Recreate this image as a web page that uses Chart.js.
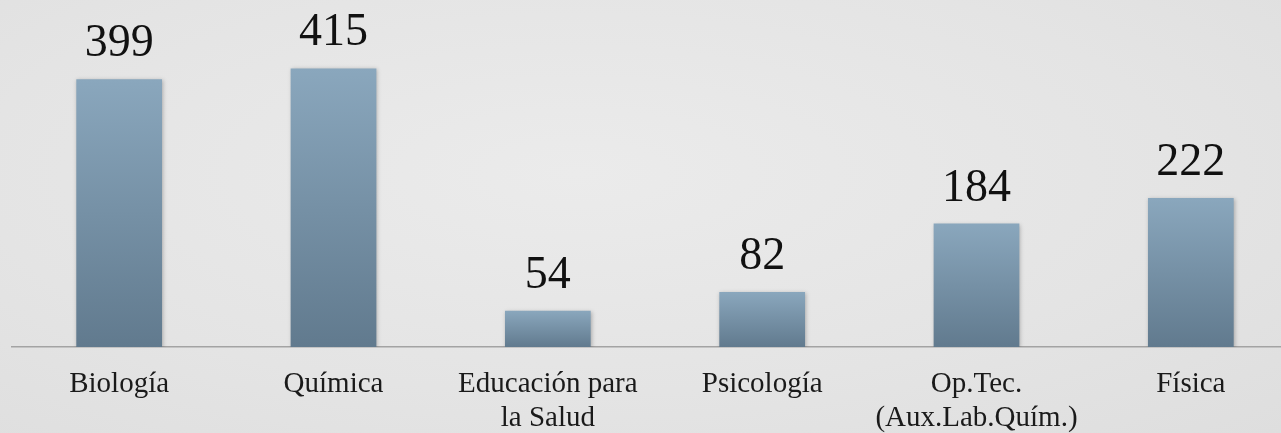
<!DOCTYPE html>
<html>
<head>
<meta charset="utf-8">
<script src="https://cdn.jsdelivr.net/npm/chart.js@4/dist/chart.umd.min.js"></script>
<style>
  html, body { margin: 0; padding: 0; overflow: hidden; }
  body { width: 1281px; height: 433px; background: radial-gradient(ellipse at 45% 40%, #ebebeb 0%, #e4e4e4 60%, #dedede 100%); }
  #wrap { position: relative; width: 1298px; height: 455px; }
</style>
</head>
<body>
<div id="wrap"><canvas id="bars"></canvas></div>
<script>
const categories = ["Biología", "Química", ["Educación para", "la Salud"], "Psicología", ["Op.Tec.", "(Aux.Lab.Quím.)"], "Física"];
const students = [399, 415, 54, 82, 184, 222];

const serif = "'Liberation Serif', 'Times New Roman', serif";

function barGradient(context) {
    const chart = context.chart;
    const area = chart.chartArea;
    if (!area || context.type !== 'data') return '#7790a5';
    const y = chart.scales.y;
    const top = y.getPixelForValue(context.raw);
    const base = y.getPixelForValue(0);
    const g = chart.ctx.createLinearGradient(0, top, 0, base);
    g.addColorStop(0, '#8aa7bd');
    g.addColorStop(1, '#617a8e');
    return g;
}

const barShadow = {
    id: 'barShadow',
    beforeDatasetDraw(chart) {
        const c = chart.ctx;
        c.save();
        c.shadowColor = 'rgba(0,0,0,0.25)';
        c.shadowBlur = 4;
        c.shadowOffsetX = 1;
        c.shadowOffsetY = 1;
    },
    afterDatasetDraw(chart) {
        chart.ctx.restore();
    }
};

const valueLabels = {
    id: 'valueLabels',
    afterDatasetsDraw(chart) {
        const c = chart.ctx;
        const meta = chart.getDatasetMeta(0);
        c.save();
        c.font = "46px " + serif;
        c.fillStyle = '#111111';
        c.textAlign = 'center';
        c.textBaseline = 'alphabetic';
        meta.data.forEach((bar, i) => {
            c.fillText(String(students[i]), bar.x, bar.y - 23);
        });
        c.restore();
    }
};

new Chart(document.getElementById("bars").getContext("2d"), {
    type: 'bar',
    data: {
        labels: categories,
        datasets: [{
            data: students,
            backgroundColor: barGradient,
            borderWidth: 0,
            barPercentage: 0.4,
            categoryPercentage: 1
        }]
    },
    options: {
        responsive: true,
        maintainAspectRatio: false,
        animation: false,
        layout: { padding: { left: 12, right: 0, top: 0, bottom: 0 } },
        plugins: {
            legend: { display: false },
            tooltip: { enabled: false }
        },
        scales: {
            x: {
                grid: { display: false, drawTicks: false },
                border: { display: true, color: '#a3a3a3', width: 1.5 },
                ticks: {
                    color: '#1a1a1a',
                    font: { family: serif, size: 29, lineHeight: 1.172 },
                    padding: 20,
                    maxRotation: 0,
                    autoSkip: false
                }
            },
            y: {
                display: false,
                min: 0,
                max: 517
            }
        }
    },
    plugins: [barShadow, valueLabels]
});
</script>
</body>
</html>
